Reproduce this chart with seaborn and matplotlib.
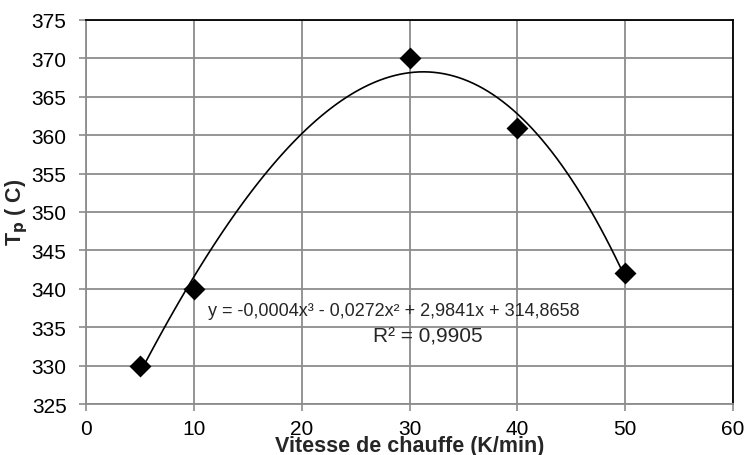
import numpy as np
import pandas as pd
import matplotlib
matplotlib.use('Agg')
import matplotlib.pyplot as plt
import seaborn as sns

# Data
vitesse = [5, 10, 30, 40, 50]
tp = [330, 340, 370, 361, 342]
equation = "y = -0,0004x³ - 0,0272x² + 2,9841x + 314,8658"
r2_text = "R² = 0,9905"

df = pd.DataFrame({'vitesse': vitesse, 'tp': tp})

sns.set_style('white')
plt.rcParams['font.family'] = ['Liberation Sans', 'DejaVu Sans']

fig = plt.figure(figsize=(7.46, 4.56), dpi=100)
ax = fig.add_axes([0.1153, 0.1118, 0.8673, 0.8422])

sns.regplot(data=df, x='vitesse', y='tp', order=3, ci=None, ax=ax,
            marker='D', color='black',
            scatter_kws={'s': 125, 'zorder': 3, 'linewidths': 0, 'alpha': 1},
            line_kws={'linewidth': 1.2, 'color': 'black'})

ax.set_xlim(0, 60)
ax.set_ylim(325, 375)
ax.set_xticks(range(0, 61, 10))
ax.set_yticks(range(325, 376, 5))
ax.grid(True, color='#8c8c8c', linewidth=1.3)
ax.set_axisbelow(True)

for side in ['top', 'right']:
    ax.spines[side].set_color('black')
    ax.spines[side].set_linewidth(1.3)
for side in ['left', 'bottom']:
    ax.spines[side].set_color('#8c8c8c')
    ax.spines[side].set_linewidth(1.3)

ax.tick_params(axis='both', labelsize=15, labelcolor='black', color='#8c8c8c',
               length=5, width=1.2, direction='out', left=True, bottom=True)
ax.tick_params(axis='y', pad=9)
ax.tick_params(axis='x', pad=6)

ax.set_xlabel('Vitesse de chauffe (K/min)', fontsize=15.5, fontweight='bold', va='center')
ax.xaxis.set_label_coords(0.5, -0.107)
ax.set_ylabel(r'T$_\mathbf{p}$ ( C)', fontsize=15.5, fontweight='bold', va='center')
ax.yaxis.set_label_coords(-0.107, 0.503)

# trendline label (Excel style)
ax.text(28.56, 337.2, equation, fontsize=13, ha='center', va='center')
ax.text(31.7, 333.8, r2_text, fontsize=15, ha='center', va='center')

plt.savefig('out.png', dpi=100)
